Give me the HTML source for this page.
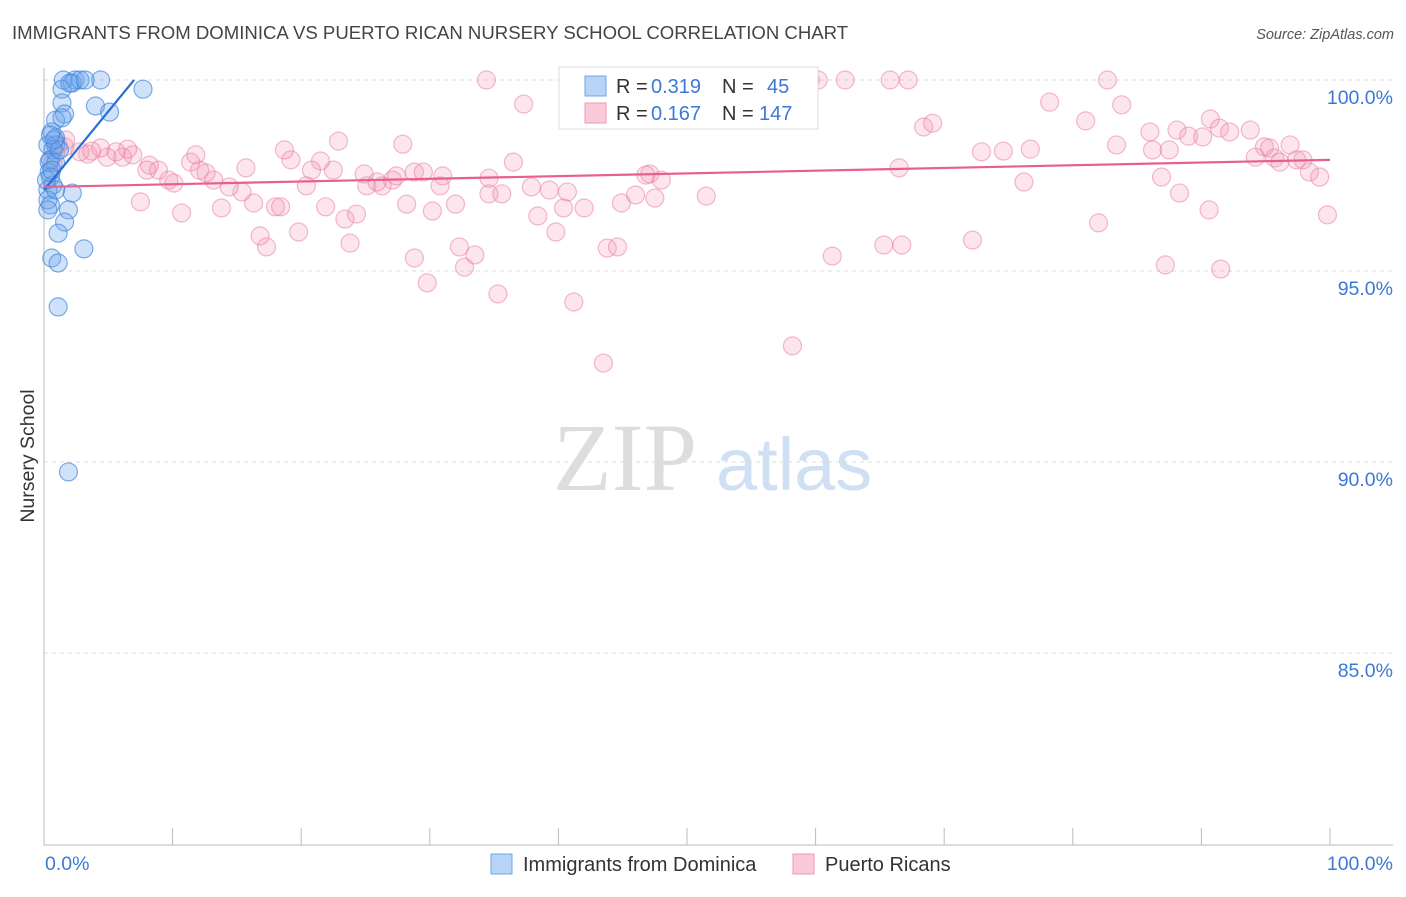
<!DOCTYPE html>
<html><head><meta charset="utf-8"><style>
body{margin:0;background:#fff;font-family:"Liberation Sans",sans-serif}
</style></head><body>
<svg id="chart" width="1406" height="892" xmlns="http://www.w3.org/2000/svg" font-family="Liberation Sans, sans-serif">
<text x="12" y="39" font-size="18.6" fill="#444">IMMIGRANTS FROM DOMINICA VS PUERTO RICAN NURSERY SCHOOL CORRELATION CHART</text>
<text x="1394" y="39" font-size="14.5" fill="#555" font-style="italic" text-anchor="end">Source: ZipAtlas.com</text>
<g>
<text x="553" y="490" font-size="96" fill="#ddd" font-family="Liberation Serif, serif">ZIP</text>
<text x="716" y="490" font-size="74" fill="#cfe0f4">atlas</text>
</g>
<g id="grid"></g>
<g id="axes"></g>
<g id="pts"></g>
<g id="trends"></g>
<text transform="translate(34,456) rotate(-90)" font-size="19.5" fill="#333" text-anchor="middle">Nursery School</text>
<g>
<rect x="559" y="67" width="259" height="62" fill="#fff" stroke="#ddd"/>
<rect x="585" y="76" width="21" height="20" fill="#b7d3f5" stroke="#6fa6e6"/>
<text x="616" y="93" font-size="20" fill="#333">R =</text>
<text x="651" y="93" font-size="20" fill="#3c78d8">0.319</text>
<text x="722" y="93" font-size="20" fill="#333">N =</text>
<text x="767" y="93" font-size="20" fill="#3c78d8">45</text>
<rect x="585" y="103" width="21" height="20" fill="#fbcad8" stroke="#ee9ab4"/>
<text x="616" y="120" font-size="20" fill="#333">R =</text>
<text x="651" y="120" font-size="20" fill="#3c78d8">0.167</text>
<text x="722" y="120" font-size="20" fill="#333">N =</text>
<text x="759" y="120" font-size="20" fill="#3c78d8">147</text>
</g>
<g>
<rect x="491" y="854" width="21" height="20" fill="#b7d3f5" stroke="#6fa6e6"/>
<text x="523" y="871" font-size="20" fill="#333">Immigrants from Dominica</text>
<rect x="793" y="854" width="21" height="20" fill="#fbcad8" stroke="#ee9ab4"/>
<text x="825" y="871" font-size="20" fill="#333">Puerto Ricans</text>
</g>
</svg>
<script>
const yTicks=[100,95,90,85];
const yTickLabels=["100.0%","95.0%","90.0%","85.0%"];
const xTickLabels=["0.0%","100.0%"];
const blueX=[1.5,2.4,2.2,2.8,4.4,7.7,1.4,1.4,4.0,5.1,1.6,0.9,0.6,0.9,0.3,0.9,0.7,0.5,0.4,0.9,0.4,0.5,0.7,0.3,2.2,0.3,0.5,0.3,1.9,1.6,1.1,3.1,0.6,1.1,1.1,1.9,0.9,0.2,0.6,1.2,0.8,0.5,1.4,2.0,3.2];
const blueY=[100,100,99.92,100,100,99.76,99.76,99.40,99.32,99.16,99.11,98.95,98.64,98.48,98.30,98.30,98.17,97.91,97.85,97.83,97.59,97.46,97.25,97.12,97.04,96.86,96.73,96.60,96.60,96.28,95.99,95.58,95.34,95.21,94.06,89.74,97.12,97.38,97.64,98.17,98.43,98.56,99.01,99.92,100];
const pinkX=[34.4,37.3,49.1,53.7,59.6,60.2,62.3,65.8,67.2,82.7,78.2,83.8,81.0,68.4,69.1,90.7,86.0,88.1,89.0,91.4,93.8,92.2,90.1,94.9,95.3,96.9,83.4,74.6,72.9,76.7,86.2,87.5,94.2,95.7,97.4,97.9,96.1,98.4,99.2,86.9,76.2,88.3,90.6,99.8,82.0,72.2,87.2,91.5,65.3,66.7,61.3,66.5,58.2,43.5,41.2,35.3,29.8,32.7,33.5,28.8,32.3,39.8,43.8,44.6,23.8,17.3,16.8,19.8,10.7,7.5,13.8,16.3,18.0,18.4,21.9,23.4,24.3,28.2,30.2,32.0,34.6,35.6,38.4,40.4,42.0,44.9,46.0,47.5,51.5,40.7,39.3,37.9,34.6,30.8,28.8,27.1,26.3,25.1,27.4,25.9,24.9,22.5,21.5,20.8,20.4,19.2,18.7,15.7,15.4,14.4,13.2,12.6,12.1,10.1,9.7,8.9,8.2,8.0,11.4,11.8,6.9,6.1,4.9,3.4,2.8,1.6,1.7,1.1,0.9,0.7,4.4,6.5,5.6,3.7,22.9,27.9,29.5,31.0,36.5,47.1,48.0,46.8];
const pinkY=[100,99.37,99.84,99.9,100,100,100,100,100,100,99.42,99.35,98.93,98.77,98.87,98.98,98.64,98.69,98.53,98.74,98.69,98.64,98.51,98.25,98.22,98.30,98.30,98.14,98.12,98.19,98.17,98.17,97.98,97.96,97.91,97.91,97.85,97.59,97.46,97.46,97.33,97.04,96.60,96.47,96.26,95.81,95.16,95.05,95.68,95.68,95.39,97.70,93.04,92.59,94.19,94.40,94.69,95.10,95.42,95.34,95.63,96.02,95.60,95.63,95.73,95.63,95.92,96.02,96.52,96.81,96.65,96.78,96.68,96.68,96.68,96.36,96.49,96.75,96.57,96.75,97.02,97.02,96.44,96.65,96.65,96.78,96.99,96.91,96.96,97.07,97.12,97.20,97.43,97.23,97.59,97.38,97.23,97.23,97.49,97.33,97.54,97.64,97.88,97.64,97.23,97.91,98.17,97.70,97.07,97.20,97.38,97.57,97.64,97.30,97.38,97.64,97.77,97.64,97.85,98.04,98.04,97.98,97.98,98.06,98.12,98.25,98.43,98.30,98.09,97.83,98.22,98.19,98.12,98.14,98.40,98.32,97.59,97.49,97.85,97.54,97.38,97.51];
const blueTrendX=[0,7.0];
const blueTrendY=[97.12,100];
const pinkTrendX=[0,100];
const pinkTrendY=[97.2,97.91];

const NS="http://www.w3.org/2000/svg";
const X0=44,X1=1330,Y100=80,PX5=191;
function sx(v){return X0+(X1-X0)*v/100;}
function sy(v){return Y100+(100-v)/5*PX5;}
function mk(tag,attrs,parent){const e=document.createElementNS(NS,tag);for(const k in attrs)e.setAttribute(k,attrs[k]);parent.appendChild(e);return e;}
const grid=document.getElementById('grid'),axes=document.getElementById('axes'),pts=document.getElementById('pts'),tr=document.getElementById('trends');
yTicks.forEach((t,i)=>{
  const l=mk('line',{x1:44,x2:1393,y1:sy(t),y2:sy(t),stroke:'#ddd','stroke-dasharray':'4,4'},grid);
  
  
  const tx=mk('text',{x:1393,y:sy(t)+24,'font-size':19.5,fill:'#3c78d8','text-anchor':'end'},axes);
  tx.textContent=yTickLabels[i];
  
  
});
mk('line',{x1:44,x2:44,y1:68,y2:845,stroke:'#bbb'},axes);
mk('line',{x1:44,x2:1393,y1:845,y2:845,stroke:'#bbb'},axes);
for(let i=0;i<=10;i++){
  const t=mk('line',{x1:sx(i*10),x2:sx(i*10),y1:828,y2:845,stroke:'#bbb'},axes);
  
  
}
const xl0=mk('text',{x:45,y:870,'font-size':19.5,fill:'#3c78d8'},axes);xl0.textContent=xTickLabels[0];


const xl1=mk('text',{x:1393,y:870,'font-size':19.5,fill:'#3c78d8','text-anchor':'end'},axes);xl1.textContent=xTickLabels[1];


pinkX.forEach((x,i)=>{
  const c=mk('circle',{cx:sx(x),cy:sy(pinkY[i]),r:9,fill:'rgba(244,150,180,0.25)',stroke:'rgba(232,120,156,0.5)','stroke-width':1.2},pts);
  
  
});
blueX.forEach((x,i)=>{
  const c=mk('circle',{cx:sx(x),cy:sy(blueY[i]),r:9,fill:'rgba(110,165,235,0.32)',stroke:'rgba(60,130,220,0.65)','stroke-width':1.2},pts);
  
  
});
const bl=mk('line',{x1:sx(blueTrendX[0]),y1:sy(blueTrendY[0]),x2:sx(blueTrendX[1]),y2:sy(blueTrendY[1]),stroke:'#2a6fd6','stroke-width':2.2},tr);


const pl=mk('line',{x1:sx(pinkTrendX[0]),y1:sy(pinkTrendY[0]),x2:sx(pinkTrendX[1]),y2:sy(pinkTrendY[1]),stroke:'#e8608a','stroke-width':2.2},tr);


</script>
</body></html>
